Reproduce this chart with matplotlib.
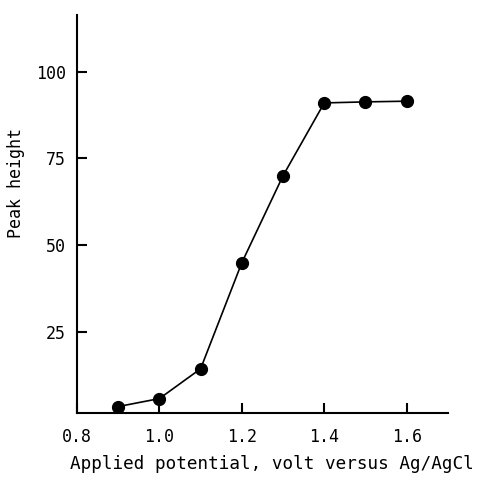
import matplotlib
matplotlib.use("Agg")
import matplotlib.pyplot as plt

## Data
potential = [0.9, 1.0, 1.1, 1.2, 1.3, 1.4, 1.5, 1.6]
peak_height = [3.4, 5.7, 14.3, 44.9, 70.0, 91.0, 91.3, 91.5]
x_ticks = [0.8, 1.0, 1.2, 1.4, 1.6]
x_tick_labels = ['0.8', '1.0', '1.2', '1.4', '1.6']
y_ticks = [25, 50, 75, 100]

plt.rcParams['font.family'] = ['DejaVu Sans Mono', 'Liberation Mono']

fig = plt.figure(figsize=(4.78, 4.8), dpi=100)
ax = fig.add_axes([0.161, 0.140, 0.776, 0.829])

ax.plot(potential, peak_height, color='black', linewidth=1.2,
        marker='o', markersize=8.5, markerfacecolor='black', markeredgecolor='black')

ax.set_xlim(0.8, 1.7)
ax.set_ylim(1.6, 116.4)
ax.set_xticks(x_ticks)
ax.set_xticklabels(x_tick_labels)
ax.set_yticks(y_ticks)

# only left and bottom axes, ticks pointing inward
ax.spines['top'].set_visible(False)
ax.spines['right'].set_visible(False)
ax.spines['left'].set_linewidth(1.5)
ax.spines['bottom'].set_linewidth(1.5)
ax.tick_params(axis='x', direction='in', length=7, width=1.5, pad=11, labelsize=12)
ax.tick_params(axis='y', direction='in', length=7, width=1.5, pad=8, labelsize=12)

ax.set_xlabel('Applied potential, volt versus Ag/AgCl', fontsize=12.7)
ax.set_ylabel('Peak height', fontsize=12)
ax.yaxis.set_label_coords(-0.14, 0.578)
ax.xaxis.set_label_coords(0.526, -0.105)

fig.savefig('out.png', dpi=100)
